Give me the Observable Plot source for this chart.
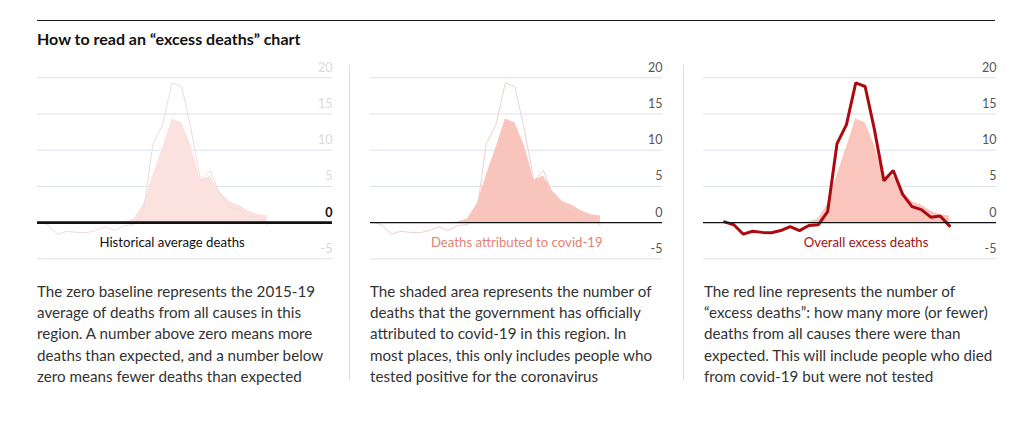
<!DOCTYPE html>
<html>
<head>
<meta charset="utf-8">
<script src="https://cdn.jsdelivr.net/npm/d3@7"></script>
<script src="https://cdn.jsdelivr.net/npm/@observablehq/plot@0.6"></script>
<style>
  html, body { margin: 0; padding: 0; background: #fff; }
  body { width: 1026px; height: 421px; position: relative; overflow: hidden; font-family: Lato, "Open Sans", sans-serif; }
  .rule { position: absolute; left: 37px; top: 20px; width: 958px; height: 1px; background: #1a1a1a; }
  .title { position: absolute; left: 37px; top: 29px; font-size: 16px; font-weight: 700; color: #111; line-height: 20px; white-space: nowrap; }
  .sep { position: absolute; top: 65px; width: 1px; height: 315px; background: #dcdcdc; }
  .panel { position: absolute; top: 55px; }
  .desc { position: absolute; top: 281px; font-size: 15.2px; line-height: 21.2px; color: #333; white-space: nowrap; }
</style>
</head>
<body>
<div class="rule"></div>
<div class="title" id="title"></div>
<div class="sep" style="left:349px"></div>
<div class="sep" style="left:683px"></div>
<div class="panel" id="p1" style="left:37px"></div>
<div class="panel" id="p2" style="left:370px"></div>
<div class="panel" id="p3" style="left:703px"></div>
<div class="desc" id="d1" style="left:37px"></div>
<div class="desc" id="d2" style="left:370px"></div>
<div class="desc" id="d3" style="left:704px"></div>
<script>
// ---- data ----
const titleText = "How to read an “excess deaths” chart";
const weeks = d3.range(25);
const excessDeaths = [0.1, -0.3, -1.6, -1.2, -1.35, -1.4, -1.1, -0.55, -1.1, -0.4, -0.3, 1.5, 10.9, 13.5, 19.3, 18.8, 12.8, 5.8, 7.2, 3.9, 2.2, 1.8, 0.75, 0.9, -0.45];
const covidWeeks = d3.range(8, 25);
const covidDeaths = [0, 0.1, 0.5, 2.5, 6.5, 10.3, 14.3, 13.8, 10.6, 5.9, 6.4, 4.3, 2.9, 2.4, 1.6, 1.1, 0.9];
const yTicks = [-5, 0, 5, 10, 15, 20];
const panelLabels = ["Historical average deaths", "Deaths attributed to covid-19", "Overall excess deaths"];
const descriptions = [
  ["The zero baseline represents the 2015-19", "average of deaths from all causes in this", "region. A number above zero means more", "deaths than expected, and a number below", "zero means fewer deaths than expected"],
  ["The shaded area represents the number of", "deaths that the government has officially", "attributed to covid-19 in this region. In", "most places, this only includes people who", "tested positive for the coronavirus"],
  ["The red line represents the number of", "“excess deaths”: how many more (or fewer)", "deaths from all causes there were than", "expected. This will include people who died", "from covid-19 but were not tested"]
];

const excess = weeks.map((w, i) => ({week: w, value: excessDeaths[i]}));
const covid = covidWeeks.map((w, i) => ({week: w, value: covidDeaths[i]}));

document.getElementById("title").textContent = titleText;
descriptions.forEach((lines, i) => {
  const el = document.getElementById("d" + (i + 1));
  lines.forEach(l => { const div = document.createElement("div"); div.textContent = l; el.appendChild(div); });
});

const H = 215;
const yScale = {domain: [-5, 20], range: [258.3 - 55, 77.3 - 55]};

function panel(opts) {
  const gridTicks = yTicks.filter(t => t !== 0);
  const marks = [
    Plot.ruleY(gridTicks, {stroke: "#d9e2ea", strokeWidth: 1}),
    Plot.areaY(covid, {x: "week", y1: 0, y2: "value", fill: opts.areaFill, curve: "linear"}),
    Plot.lineY(excess, {x: "week", y: "value", stroke: opts.lineStroke, strokeWidth: opts.lineWidth, curve: "linear", strokeLinejoin: "miter"}),
    Plot.ruleY([0], {stroke: "#111", strokeWidth: opts.zeroWidth}),
    Plot.text(yTicks.filter(t => t !== 0), {y: d => d, text: d => String(d), frameAnchor: "right", textAnchor: "end", dy: -10, fill: opts.tickColor, fontSize: 12.5}),
    Plot.text([0], {y: d => d, text: d => String(d), frameAnchor: "right", textAnchor: "end", dy: -10, fill: opts.zeroColor, fontSize: 12.5, fontWeight: opts.zeroWeight}),
    Plot.text([opts.label], {x: opts.labelX, y: -2.75, text: d => d, fill: opts.labelColor, fontSize: 13.2, textAnchor: "middle"})
  ];
  return Plot.plot({
    width: opts.width,
    height: H,
    marginLeft: 0, marginRight: 0, marginTop: 22.3, marginBottom: 12,
    x: {domain: [0, 24], range: opts.xRange, axis: null},
    y: {...yScale, axis: null},
    style: {fontFamily: "Lato, 'Open Sans', sans-serif", background: "transparent", overflow: "visible"},
    marks
  });
}

document.getElementById("p1").appendChild(panel({
  width: 295, xRange: [1, 230], areaFill: "#fbe2de", lineStroke: "#ecdede", lineWidth: 1,
  zeroWidth: 2.8, tickColor: "#d9d9d9", zeroColor: "#111", zeroWeight: 700,
  label: panelLabels[0], labelColor: "#111", labelX: 14
}));
document.getElementById("p2").appendChild(panel({
  width: 292, xRange: [1.7, 230], areaFill: "#f9c4bb", lineStroke: "#f1cfcb", lineWidth: 1,
  zeroWidth: 1.2, tickColor: "#555", zeroColor: "#555", zeroWeight: 400,
  label: panelLabels[1], labelColor: "#e47f76", labelX: 15.2
}));
document.getElementById("p3").appendChild(panel({
  width: 293, xRange: [21, 246], areaFill: "#f9c5bc", lineStroke: "#ad0a0f", lineWidth: 3,
  zeroWidth: 1.2, tickColor: "#555", zeroColor: "#555", zeroWeight: 400,
  label: panelLabels[2], labelColor: "#a1100f", labelX: 15.1
}));
</script>
</body>
</html>
